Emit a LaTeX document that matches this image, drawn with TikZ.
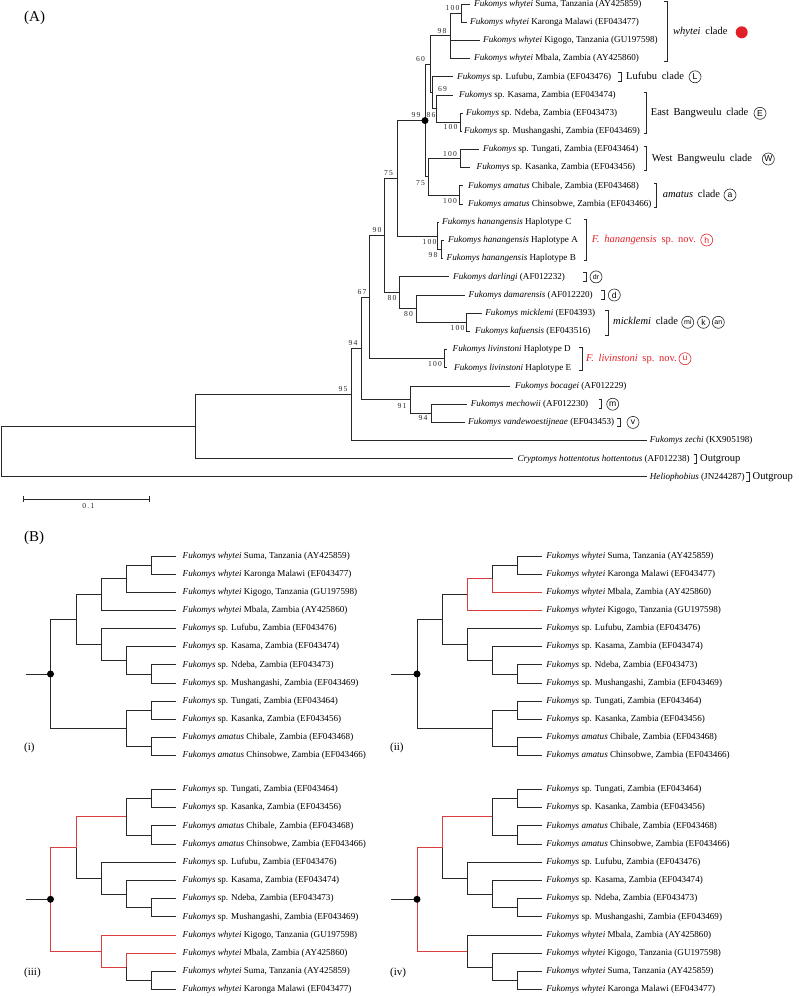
\documentclass[tikz,border=0pt]{standalone}
\usepackage{fontspec}
\setmainfont{Liberation Serif}
\newfontfamily\circfont{Liberation Sans}
\definecolor{redc}{RGB}{226,32,40}
\definecolor{redl}{RGB}{218,62,62}
\definecolor{linec}{RGB}{40,40,40}
\newcommand\fkm{\textit{Fukomys}}
\newcommand\ws{\hspace{0.45em}}
\tikzset{
  br/.style={line width=0.9pt, draw=linec},
  rbr/.style={line width=0.9pt, draw=redl},
  lf/.style={anchor=west, inner ysep=0pt, text height=6.2pt, text depth=1.8pt, font=\fontsize{9.1}{10}\selectfont},
  lfl/.style={lf, inner xsep=6.5pt},
  lfr/.style={lf, inner xsep=4.5pt},
  sup/.style={inner sep=0pt, font=\fontsize{7.6}{8}\selectfont, text=linec},
  clab/.style={anchor=west, inner sep=0pt, text height=7pt, text depth=2pt, font=\fontsize{10.5}{12}\selectfont},
  circ/.style={circle, draw=linec, line width=0.6pt, inner sep=0pt, minimum size=12pt, font=\circfont\fontsize{8.6}{9}\selectfont},
  circs/.style={circ, font=\circfont\fontsize{7}{7}\selectfont},
  bkt/.style={line width=0.9pt, draw=linec},
  dotn/.style={circle, fill=black, inner sep=0pt, minimum size=7pt},
  plab/.style={anchor=west, inner sep=0pt, font=\fontsize{15}{16}\selectfont},
  blab/.style={anchor=west, inner sep=0pt, font=\fontsize{11}{12}\selectfont},
}
\begin{document}
\begin{tikzpicture}[x=1pt,y=-1pt]
\useasboundingbox (0,0) rectangle (799,996);

% ================= (A) =================
\node[plab] (labA) at (24,18) {(A)};

\node[lf, inner xsep=4pt] (t1) at (470,4.0) {\textit{Fukomys whytei} Suma, Tanzania (AY425859)};
\node[lf, inner xsep=3pt] (t2) at (467,22.2) {\textit{Fukomys whytei} Karonga Malawi (EF043477)};
\node[lf, inner xsep=3pt] (t3) at (480,40.4) {\textit{Fukomys whytei} Kigogo, Tanzania (GU197598)};
\node[lf, inner xsep=4pt] (t4) at (470,58.6) {\textit{Fukomys whytei} Mbala, Zambia (AY425860)};
\node[lf, inner xsep=4pt] (t5) at (453,76.8) {\fkm{} sp. Lufubu, Zambia (EF043476)};
\node[lf, inner xsep=6pt] (t6) at (453,95.0) {\fkm{} sp. Kasama, Zambia (EF043474)};
\node[lf, inner xsep=3pt] (t7) at (463,113.1) {\fkm{} sp. Ndeba, Zambia (EF043473)};
\node[lf, inner xsep=2pt] (t8) at (462,131.3) {\fkm{} sp. Mushangashi, Zambia (EF043469)};
\node[lf, inner xsep=4pt] (t9) at (479,149.5) {\fkm{} sp. Tungati, Zambia (EF043464)};
\node[lf, inner xsep=6.5pt] (t10) at (470,167.7) {\fkm{} sp. Kasanka, Zambia (EF043456)};
\node[lf, inner xsep=5pt] (t11) at (463,185.9) {\textit{Fukomys amatus} Chibale, Zambia (EF043468)};
\node[lf, inner xsep=5pt] (t12) at (463,204.1) {\textit{Fukomys amatus} Chinsobwe, Zambia (EF043466)};
\node[lf, inner xsep=3pt] (t13) at (439,222.3) {\textit{Fukomys hanangensis} Haplotype C};
\node[lf, inner xsep=4pt] (t14) at (444,240.5) {\textit{Fukomys hanangensis} Haplotype A};
\node[lf, inner xsep=3.5pt] (t15) at (443,258.7) {\textit{Fukomys hanangensis} Haplotype B};
\node[lf, inner xsep=4pt] (t16) at (449,276.9) {\textit{Fukomys darlingi} (AF012232)};
\node[lf, inner xsep=3.5pt] (t17) at (465,295.0) {\textit{Fukomys damarensis} (AF012220)};
\node[lf, inner xsep=3.5pt] (t18) at (481.7,313.2) {\textit{Fukomys micklemi} (EF04393)};
\node[lf, inner xsep=5pt] (t19) at (470,331.4) {\textit{Fukomys kafuensis} (EF043516)};
\node[lf, inner xsep=5.5pt] (t20) at (447,349.6) {\textit{Fukomys livinstoni} Haplotype D};
\node[lf, inner xsep=7pt] (t21) at (447,367.8) {\textit{Fukomys livinstoni} Haplotype E};
\node[lf, inner xsep=5pt] (t22) at (510,386.0) {\textit{Fukomys bocagei} (AF012229)};
\node[lf, inner xsep=4pt] (t23) at (466.7,404.2) {\textit{Fukomys mechowii} (AF012230)};
\node[lf, inner xsep=3.5pt] (t24) at (464.5,422.4) {\textit{Fukomys vandewoestijneae} (EF043453)};
\node[lf, inner xsep=3pt] (t25) at (646.7,440.6) {\textit{Fukomys zechi} (KX905198)};
\node[lf, inner xsep=4pt] (t26) at (513.3,458.8) {\textit{Cryptomys hottentotus hottentotus} (AF012238)};
\node[lf, inner xsep=3pt] (t27) at (646.7,476.9) {\textit{Heliophobius} (JN244287)};

\coordinate (a1) at (461,13.1);
\coordinate (a2) at (450.7,35.85);
\coordinate (a3) at (460,122.2);
\coordinate (a4) at (436.7,108.6);
\coordinate (a5) at (432.3,92.7);
\coordinate (a6) at (430,64.3);
\coordinate (a7) at (460.7,158.6);
\coordinate (a8) at (459,195);
\coordinate (a9) at (428.3,176.8);
\coordinate (a10) at (425,120.55);
\coordinate (a11) at (441,249.6);
\coordinate (a12) at (437.7,235.95);
\coordinate (a13) at (397.7,178.25);
\coordinate (a14) at (466.7,322.3);
\coordinate (a15) at (416,308.65);
\coordinate (a16) at (399.3,292.8);
\coordinate (a17) at (384.3,235.5);
\coordinate (a18) at (444,358.7);
\coordinate (a19) at (369.3,297.1);
\coordinate (a20) at (431.7,413.3);
\coordinate (a21) at (410,399.65);
\coordinate (a22) at (361.7,348.4);
\coordinate (a23) at (351.7,394.5);
\coordinate (a24) at (195,426.65);
\coordinate (a25) at (1,451.8);

\foreach \p/\c in {a1/t1.west, a1/t2.west, a2/a1, a2/t3.west, a2/t4.west,
  a3/t7.west, a3/t8.west, a4/t6.west, a4/a3, a5/t5.west, a5/a4, a6/a2, a6/a5,
  a7/t9.west, a7/t10.west, a8/t11.west, a8/t12.west, a9/a7, a9/a8, a10/a6, a10/a9,
  a11/t14.west, a11/t15.west, a12/t13.west, a12/a11, a13/a10, a13/a12,
  a14/t18.west, a14/t19.west, a15/t17.west, a15/a14, a16/t16.west, a16/a15,
  a17/a13, a17/a16, a18/t20.west, a18/t21.west, a19/a17, a19/a18,
  a20/t23.west, a20/t24.west, a21/t22.west, a21/a20, a22/a19, a22/a21,
  a23/a22, a23/t25.west, a24/a23, a24/t26.west, a25/a24, a25/t27.west}
  \draw[br] (\p) |- (\c);
\node[dotn] (dotA) at (a10) {};

% support values
\node[sup] (s1) at (452.5,8) {1\,0\,0};
\node[sup] (s2) at (442,31) {9\,8};
\node[sup] (s3) at (420.5,59) {6\,0};
\node[sup] (s4) at (442.5,89) {6\,9};
\node[sup] (s5) at (416,115) {9\,9};
\node[sup] (s6) at (431,115) {8\,6};
\node[sup] (s7) at (450.5,127) {1\,0\,0};
\node[sup] (s8) at (450,154) {1\,0\,0};
\node[sup] (s9) at (420.5,182.7) {7\,5};
\node[sup] (s10) at (450,201) {1\,0\,0};
\node[sup] (s11) at (388.5,173) {7\,5};
\node[sup] (s12) at (377,230) {9\,0};
\node[sup] (s13) at (429.5,241.7) {1\,0\,0};
\node[sup] (s14) at (433,255) {9\,8};
\node[sup] (s15) at (392,298) {8\,0};
\node[sup] (s16) at (408.5,314) {8\,0};
\node[sup] (s17) at (457.5,327.7) {1\,0\,0};
\node[sup] (s18) at (362,292) {6\,7};
\node[sup] (s19) at (435,364.3) {1\,0\,0};
\node[sup] (s20) at (353,343.3) {9\,4};
\node[sup] (s21) at (343,389.3) {9\,5};
\node[sup] (s22) at (402,405.7) {9\,1};
\node[sup] (s23) at (423,418) {9\,4};

% clade brackets and labels
\draw[bkt] (664.3,1.7) -- (667.3,1.7) -- (667.3,61.7) -- (664.3,61.7);
\node[clab] (cw) at (673,32.3) {\textit{whytei}\ws clade};
\node[circle, fill=redc, inner sep=0pt, minimum size=12pt] (cwd) at (741.7,32.3) {};

\draw[bkt] (618,72.5) -- (621,72.5) -- (621,81.3) -- (618,81.3);
\node[clab] (cl) at (626,76.8) {Lufubu\ws clade};
\node[circ] (ccL) at (695,76.8) {L};

\draw[bkt] (643.7,92.7) -- (646.7,92.7) -- (646.7,133.3) -- (643.7,133.3);
\node[clab] (ce) at (650.7,113.3) {East\ws Bangweulu\ws clade};
\node[circ] (ccE) at (760,113.3) {E};

\draw[bkt] (643.7,146.7) -- (646.7,146.7) -- (646.7,170.7) -- (643.7,170.7);
\node[clab] (cwb) at (651.7,159) {West\ws Bangweulu\ws clade};
\node[circ] (ccW) at (768.3,159) {W};

\draw[bkt] (653.7,183.3) -- (656.7,183.3) -- (656.7,207.3) -- (653.7,207.3);
\node[clab] (ca) at (662.7,195) {\textit{amatus}\ws clade};
\node[circ] (cca) at (730,195) {a};

\draw[bkt] (583.7,219.3) -- (586.7,219.3) -- (586.7,260.7) -- (583.7,260.7);
\node[clab, text=redc] (ch) at (591.7,240) {\textit{F.\ws hanangensis}\ws sp.\ws nov.};
\node[circ, draw=redc, text=redc] (cch) at (706.7,240) {h};

\draw[bkt] (583,272.5) -- (586,272.5) -- (586,281.3) -- (583,281.3);
\node[circs] (ccdr) at (596,276.9) {dr};

\draw[bkt] (601,290.6) -- (604,290.6) -- (604,299.4) -- (601,299.4);
\node[circ] (ccd) at (614.3,295) {d};

\draw[bkt] (605.3,310.7) -- (608.3,310.7) -- (608.3,335) -- (605.3,335);
\node[clab] (cm) at (613,322.3) {\textit{micklemi}\ws clade};
\node[circs] (ccmi) at (687.7,322.3) {mi};
\node[circ] (cck) at (703.5,322.3) {k};
\node[circs] (ccan) at (718.3,322.3) {an};

\draw[bkt] (579,347.3) -- (582,347.3) -- (582,370.7) -- (579,370.7);
\node[clab, text=redc] (cli) at (586,358.7) {\textit{F.\ws livinstoni}\ws sp.\ws nov.};
\node[circ, draw=redc, text=redc] (ccu) at (685,358.7) {u};

\draw[bkt] (598.5,399.8) -- (601.5,399.8) -- (601.5,408.6) -- (598.5,408.6);
\node[circ] (ccm) at (612.7,404.2) {m};

\draw[bkt] (617,418) -- (620,418) -- (620,426.8) -- (617,426.8);
\node[circ] (ccv) at (633,422.4) {v};

\draw[bkt] (693.5,454.4) -- (696.5,454.4) -- (696.5,463.2) -- (693.5,463.2);
\node[clab] (og1) at (700,458.8) {Outgroup};
\draw[bkt] (746,472.5) -- (749,472.5) -- (749,481.3) -- (746,481.3);
\node[clab] (og2) at (752.5,476.9) {Outgroup};

% scale bar
\draw[br] (23.3,499.3) -- (149.3,499.3);
\draw[br] (23.3,496.3) -- (23.3,502.3);
\draw[br] (149.3,496.3) -- (149.3,502.3);
\node[sup] (scl) at (88.3,505.8) {0\,.\,1};

% ================= (B) =================
\node[plab] (labB) at (24,538) {(B)};

% ---- (i)
\node[lfl] (I1) at (176,556.00) {\textit{Fukomys whytei} Suma, Tanzania (AY425859)};
\node[lfl] (I2) at (176,574.15) {\textit{Fukomys whytei} Karonga Malawi (EF043477)};
\node[lfl] (I3) at (176,592.30) {\textit{Fukomys whytei} Kigogo, Tanzania (GU197598)};
\node[lfl] (I4) at (176,610.45) {\textit{Fukomys whytei} Mbala, Zambia (AY425860)};
\node[lfl] (I5) at (176,628.60) {\fkm{} sp. Lufubu, Zambia (EF043476)};
\node[lfl] (I6) at (176,646.75) {\fkm{} sp. Kasama, Zambia (EF043474)};
\node[lfl] (I7) at (176,664.90) {\fkm{} sp. Ndeba, Zambia (EF043473)};
\node[lfl] (I8) at (176,683.05) {\fkm{} sp. Mushangashi, Zambia (EF043469)};
\node[lfl] (I9) at (176,701.20) {\fkm{} sp. Tungati, Zambia (EF043464)};
\node[lfl] (I10) at (176,719.35) {\fkm{} sp. Kasanka, Zambia (EF043456)};
\node[lfl] (I11) at (176,737.50) {\textit{Fukomys amatus} Chibale, Zambia (EF043468)};
\node[lfl] (I12) at (176,755.65) {\textit{Fukomys amatus} Chinsobwe, Zambia (EF043466)};
\coordinate (Ia) at (151,565.075);
\coordinate (Ib) at (126,578.69);
\coordinate (Ic) at (101,594.57);
\coordinate (Id) at (151,673.975);
\coordinate (Ie) at (126,660.36);
\coordinate (If) at (101,644.48);
\coordinate (Ig) at (76,619.53);
\coordinate (Ih) at (151,710.275);
\coordinate (Ii) at (151,746.575);
\coordinate (Ij) at (126,728.425);
\coordinate (Ik) at (50.5,673.98);
\coordinate (Is) at (25.5,673.98);
\foreach \p/\c in {Ia/I1.west, Ia/I2.west, Ib/Ia, Ib/I3.west, Ic/Ib, Ic/I4.west,
  Id/I7.west, Id/I8.west, Ie/I6.west, Ie/Id, If/I5.west, If/Ie, Ig/Ic, Ig/If,
  Ih/I9.west, Ih/I10.west, Ii/I11.west, Ii/I12.west, Ij/Ih, Ij/Ii, Ik/Ig, Ik/Ij}
  \draw[br] (\p) |- (\c);
\draw[br] (Is) -- (Ik);
\node[dotn] (Idot) at (Ik) {};
\node[blab] (labi) at (24,748.3) {(i)};

% ---- (ii)
\node[lfr] (J1) at (541.7,556.00) {\textit{Fukomys whytei} Suma, Tanzania (AY425859)};
\node[lfr] (J2) at (541.7,574.15) {\textit{Fukomys whytei} Karonga Malawi (EF043477)};
\node[lfr] (J3) at (541.7,592.30) {\textit{Fukomys whytei} Mbala, Zambia (AY425860)};
\node[lfr] (J4) at (541.7,610.45) {\textit{Fukomys whytei} Kigogo, Tanzania (GU197598)};
\node[lfr] (J5) at (541.7,628.60) {\fkm{} sp. Lufubu, Zambia (EF043476)};
\node[lfr] (J6) at (541.7,646.75) {\fkm{} sp. Kasama, Zambia (EF043474)};
\node[lfr] (J7) at (541.7,664.90) {\fkm{} sp. Ndeba, Zambia (EF043473)};
\node[lfr] (J8) at (541.7,683.05) {\fkm{} sp. Mushangashi, Zambia (EF043469)};
\node[lfr] (J9) at (541.7,701.20) {\fkm{} sp. Tungati, Zambia (EF043464)};
\node[lfr] (J10) at (541.7,719.35) {\fkm{} sp. Kasanka, Zambia (EF043456)};
\node[lfr] (J11) at (541.7,737.50) {\textit{Fukomys amatus} Chibale, Zambia (EF043468)};
\node[lfr] (J12) at (541.7,755.65) {\textit{Fukomys amatus} Chinsobwe, Zambia (EF043466)};
\coordinate (Ja) at (517.3,565.075);
\coordinate (Jb) at (492.3,578.69);
\coordinate (Jc) at (467.3,594.57);
\coordinate (Jd) at (517.3,673.975);
\coordinate (Je) at (492.3,660.36);
\coordinate (Jf) at (467.3,644.48);
\coordinate (Jg) at (442.3,619.53);
\coordinate (Jh) at (517.3,710.275);
\coordinate (Ji) at (517.3,746.575);
\coordinate (Jj) at (492.3,728.425);
\coordinate (Jk) at (417,673.98);
\coordinate (Js) at (391,673.98);
\foreach \p/\c in {Ja/J1.west, Ja/J2.west, Jb/Ja,
  Jd/J7.west, Jd/J8.west, Je/J6.west, Je/Jd, Jf/J5.west, Jf/Je, Jg/Jc, Jg/Jf,
  Jh/J9.west, Jh/J10.west, Ji/J11.west, Ji/J12.west, Jj/Jh, Jj/Ji, Jk/Jg, Jk/Jj}
  \draw[br] (\p) |- (\c);
\foreach \p/\c in {Jb/J3.west, Jc/Jb, Jc/J4.west}
  \draw[rbr] (\p) |- (\c);
\draw[br] (Js) -- (Jk);
\node[dotn] (Jdot) at (Jk) {};
\node[blab] (labii) at (390,748.3) {(ii)};

% ---- (iii)
\node[lfl] (K1) at (176,789.5) {\fkm{} sp. Tungati, Zambia (EF043464)};
\node[lfl] (K2) at (176,807.7) {\fkm{} sp. Kasanka, Zambia (EF043456)};
\node[lfl] (K3) at (176,825.9) {\textit{Fukomys amatus} Chibale, Zambia (EF043468)};
\node[lfl] (K4) at (176,844.1) {\textit{Fukomys amatus} Chinsobwe, Zambia (EF043466)};
\node[lfl] (K5) at (176,862.3) {\fkm{} sp. Lufubu, Zambia (EF043476)};
\node[lfl] (K6) at (176,880.5) {\fkm{} sp. Kasama, Zambia (EF043474)};
\node[lfl] (K7) at (176,898.7) {\fkm{} sp. Ndeba, Zambia (EF043473)};
\node[lfl] (K8) at (176,916.9) {\fkm{} sp. Mushangashi, Zambia (EF043469)};
\node[lfl] (K9) at (176,935.1) {\textit{Fukomys whytei} Kigogo, Tanzania (GU197598)};
\node[lfl] (K10) at (176,953.3) {\textit{Fukomys whytei} Mbala, Zambia (AY425860)};
\node[lfl] (K11) at (176,971.5) {\textit{Fukomys whytei} Suma, Tanzania (AY425859)};
\node[lfl] (K12) at (176,989.7) {\textit{Fukomys whytei} Karonga Malawi (EF043477)};
\coordinate (Ka) at (151,798.6);
\coordinate (Kb) at (151,835.0);
\coordinate (Kc) at (126,816.8);
\coordinate (Kd) at (151,907.8);
\coordinate (Ke) at (126,894.15);
\coordinate (Kf) at (101,878.225);
\coordinate (Kg) at (76,847.51);
\coordinate (Kh) at (151,980.6);
\coordinate (Ki) at (126,966.95);
\coordinate (Kj) at (101,951.025);
\coordinate (Kk) at (50.5,899.27);
\coordinate (Ks) at (25.5,899.27);
\foreach \p/\c in {Ka/K1.west, Ka/K2.west, Kb/K3.west, Kb/K4.west, Kc/Ka, Kc/Kb,
  Kd/K7.west, Kd/K8.west, Ke/K6.west, Ke/Kd, Kf/K5.west, Kf/Ke, Kg/Kf,
  Kh/K11.west, Kh/K12.west, Ki/Kh}
  \draw[br] (\p) |- (\c);
\foreach \p/\c in {Kg/Kc, Ki/K10.west, Kj/K9.west, Kj/Ki, Kk/Kg, Kk/Kj}
  \draw[rbr] (\p) |- (\c);
\draw[br] (Ks) -- (Kk);
\node[dotn] (Kdot) at (Kk) {};
\node[blab] (labiii) at (24,973) {(iii)};

% ---- (iv)
\node[lfr] (M1) at (541.7,789.5) {\fkm{} sp. Tungati, Zambia (EF043464)};
\node[lfr] (M2) at (541.7,807.7) {\fkm{} sp. Kasanka, Zambia (EF043456)};
\node[lfr] (M3) at (541.7,825.9) {\textit{Fukomys amatus} Chibale, Zambia (EF043468)};
\node[lfr] (M4) at (541.7,844.1) {\textit{Fukomys amatus} Chinsobwe, Zambia (EF043466)};
\node[lfr] (M5) at (541.7,862.3) {\fkm{} sp. Lufubu, Zambia (EF043476)};
\node[lfr] (M6) at (541.7,880.5) {\fkm{} sp. Kasama, Zambia (EF043474)};
\node[lfr] (M7) at (541.7,898.7) {\fkm{} sp. Ndeba, Zambia (EF043473)};
\node[lfr] (M8) at (541.7,916.9) {\fkm{} sp. Mushangashi, Zambia (EF043469)};
\node[lfr] (M9) at (541.7,935.1) {\textit{Fukomys whytei} Mbala, Zambia (AY425860)};
\node[lfr] (M10) at (541.7,953.3) {\textit{Fukomys whytei} Kigogo, Tanzania (GU197598)};
\node[lfr] (M11) at (541.7,971.5) {\textit{Fukomys whytei} Suma, Tanzania (AY425859)};
\node[lfr] (M12) at (541.7,989.7) {\textit{Fukomys whytei} Karonga Malawi (EF043477)};
\coordinate (Ma) at (517.3,798.6);
\coordinate (Mb) at (517.3,835.0);
\coordinate (Mc) at (492.3,816.8);
\coordinate (Md) at (517.3,907.8);
\coordinate (Me) at (492.3,894.15);
\coordinate (Mf) at (467.3,878.225);
\coordinate (Mg) at (442.3,847.51);
\coordinate (Mh) at (517.3,980.6);
\coordinate (Mi) at (492.3,966.95);
\coordinate (Mj) at (467.3,951.025);
\coordinate (Mk) at (417,899.27);
\coordinate (Ms) at (391,899.27);
\foreach \p/\c in {Ma/M1.west, Ma/M2.west, Mb/M3.west, Mb/M4.west, Mc/Ma, Mc/Mb,
  Md/M7.west, Md/M8.west, Me/M6.west, Me/Md, Mf/M5.west, Mf/Me, Mg/Mf,
  Mh/M11.west, Mh/M12.west, Mi/M10.west, Mi/Mh, Mj/M9.west, Mj/Mi}
  \draw[br] (\p) |- (\c);
\foreach \p/\c in {Mg/Mc, Mk/Mg, Mk/Mj}
  \draw[rbr] (\p) |- (\c);
\draw[br] (Ms) -- (Mk);
\node[dotn] (Mdot) at (Mk) {};
\node[blab] (labiv) at (390,973) {(iv)};

\end{tikzpicture}
\end{document}
